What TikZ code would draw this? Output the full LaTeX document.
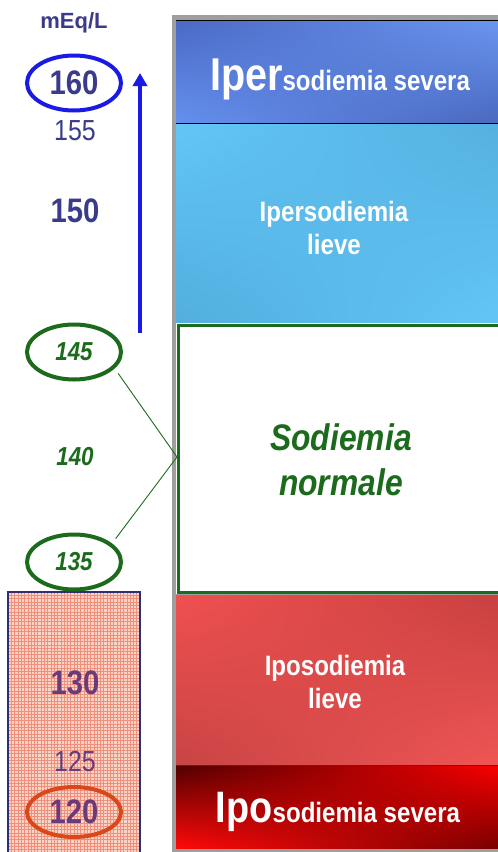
\documentclass[tikz,border=0pt]{standalone}
\usepackage{fontspec}
\setmainfont{Liberation Sans}
\newfontfamily\nar[FakeStretch=0.86]{Liberation Sans}
\usetikzlibrary{shapes.geometric,arrows.meta,shadings}
\definecolor{numblue}{HTML}{3B3B8C}
\definecolor{numpurple}{HTML}{6A3A7A}
\definecolor{dgreen}{HTML}{1C6B1C}
\definecolor{ringblue}{HTML}{1A1AE6}
\definecolor{ringorange}{HTML}{D8481A}
\definecolor{pinkbg}{HTML}{FCD3C4}
\definecolor{pinkgrid}{HTML}{F0907C}
\definecolor{bAul}{HTML}{4A69C4}
\definecolor{bAur}{HTML}{6B96F0}
\definecolor{bAll}{HTML}{6590EE}
\definecolor{bAlr}{HTML}{4A68BE}
\definecolor{bBul}{HTML}{62C6F5}
\definecolor{bBur}{HTML}{55B0E0}
\definecolor{bBll}{HTML}{52AEDE}
\definecolor{bBlr}{HTML}{62C6F5}
\definecolor{rAul}{HTML}{F05050}
\definecolor{rAur}{HTML}{C84040}
\definecolor{rAll}{HTML}{C84444}
\definecolor{rAlr}{HTML}{F05555}
\definecolor{rBul}{HTML}{500000}
\definecolor{rBur}{HTML}{FA0000}
\definecolor{rBll}{HTML}{FF0A0A}
\definecolor{rBlr}{HTML}{780000}
\begin{document}
\begin{tikzpicture}[x=1pt,y=-1pt,
  ring/.style={ellipse, line width=4pt, minimum width=94pt, minimum height=55pt, inner sep=0pt},
  bignum/.style={font=\nar\bfseries\fontsize{34}{36}\selectfont},
  smallnum/.style={font=\nar\fontsize{29}{32}\selectfont},
  greennum/.style={text=dgreen, font=\nar\bfseries\itshape\fontsize{26}{28}\selectfont},
  bandtext/.style={text=white, align=center, font=\nar\bfseries\fontsize{28}{33}\selectfont},
  link/.style={dgreen, line width=0.9pt, shorten <=6pt},
]
\useasboundingbox (0,0) rectangle (498,852);
\fill[white] (0,0) rectangle (498,852);

% frame
\fill[gray!75] (172,15) rectangle (500,852);

% bands
\shade[upper left=bAul, upper right=bAur, lower left=bAll, lower right=bAlr] (176,20) rectangle (500,123);
\shade[upper left=bBul, upper right=bBur, lower left=bBll, lower right=bBlr] (176,123) rectangle (500,323);
\draw[black, line width=0.8pt] (176,123) -- (500,123);
\draw[black, line width=0.8pt] (176,20) -- (500,20);
\fill[white] (176,323) rectangle (500,594);
\draw[dgreen, line width=3pt] (178,325) rectangle (502,592);
\shade[upper left=rAul, upper right=rAur, lower left=rAll, lower right=rAlr] (176,595) rectangle (500,765);
\shade[upper left=rBul, upper right=rBur, lower left=rBll, lower right=rBlr] (176,765) rectangle (500,848);
\draw[black!80, line width=1pt] (176,765) -- (500,765);

% band texts
\node[text=white, anchor=base, font=\nar\bfseries\fontsize{28}{30}\selectfont] (sev1) at (340,90)
  {{\fontsize{46}{48}\selectfont Iper}sodiemia severa};
\node[bandtext] (lieve1) at (334,228) {Ipersodiemia\\lieve};
\node[text=dgreen, align=center, font=\nar\bfseries\itshape\fontsize{37}{45}\selectfont] (norm) at (341,460) {Sodiemia\\normale};
\node[bandtext] (lieve2) at (335,682) {Iposodiemia\\lieve};
\node[text=white, anchor=base, font=\nar\bfseries\fontsize{28}{30}\selectfont] (sev2) at (338,822)
  {{\fontsize{44}{46}\selectfont Ipo}sodiemia severa};

% pink hatched box
\fill[pinkbg] (8,592) rectangle (140,856);
\foreach \i in {0,...,40} {\draw[pinkgrid, line width=0.45pt] (8+\i*3.3,592) -- (8+\i*3.3,856);}
\foreach \j in {0,...,80} {\draw[pinkgrid, line width=0.45pt] (8,592+\j*3.3) -- (140,592+\j*3.3);}
\draw[numblue!80!black, line width=2pt] (8,592) rectangle (140,858);

% scale
\node[text=numblue, anchor=base, font=\bfseries\fontsize{22}{24}\selectfont] (unit) at (74,28) {mEq/L};
\node[ring, draw=ringblue, text=numblue, bignum] (e160) at (74,83) {160};
\node[text=numblue, smallnum] (n155) at (75,131) {155};
\node[text=numblue, bignum] (n150) at (75,211) {150};
\node[ring, draw=dgreen, greennum] (e145) at (74,352) {145};
\node[greennum] (n140) at (75,457) {140};
\node[ring, draw=dgreen, greennum] (e135) at (74,562) {135};
\node[text=numpurple, bignum] (n130) at (75,683) {130};
\node[text=numpurple, smallnum] (n125) at (75,762) {125};
\node[ring, draw=ringorange, minimum height=50pt, text=numpurple, bignum] (e120) at (74,812) {120};

% arrow
\coordinate (abot) at (140,333);
\coordinate (atop) at (140,73);
\draw[ringblue, line width=3.5pt, -{Triangle[length=13pt,width=14pt]}] (abot) -- (atop);

% connectors
\coordinate (meet) at (177,457);
\draw[link] (e145.-22) -- (meet);
\draw[link] (e135.26) -- (meet);
\end{tikzpicture}
\end{document}
